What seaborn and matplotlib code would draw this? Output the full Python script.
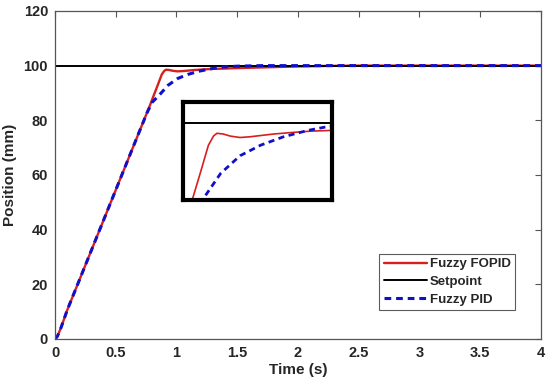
import numpy as np
import pandas as pd
import seaborn as sns
import matplotlib.pyplot as plt

# datos
t_fopid = [0, 0.02, 0.05, 0.1, 0.2, 0.3, 0.4, 0.5, 0.6, 0.7, 0.78, 0.81, 0.845, 0.879,
           0.9, 0.914, 0.94, 0.97, 1.01, 1.05, 1.1, 1.15, 1.22, 1.3, 1.38, 1.5, 1.75,
           2.0, 2.25, 2.5, 3.0, 3.5, 4.0]
v_fopid = [0, 1.0, 4.2, 10.5, 21.5, 32.5, 43.5, 54.5, 65.5, 76.5, 85.3, 88.8, 92.8, 96.8,
           98.1, 98.5, 98.4, 98.1, 97.9, 98.0, 98.2, 98.4, 98.6, 98.8, 98.9, 99.1, 99.4,
           99.7, 99.9, 100, 100, 100, 100]

t_pid = [0, 0.02, 0.05, 0.1, 0.2, 0.3, 0.4, 0.5, 0.6, 0.7, 0.76, 0.8, 0.86, 0.93,
         1.01, 1.095, 1.19, 1.29, 1.38, 1.5, 1.7, 2.0, 2.5, 3.0, 3.5, 4.0]
v_pid = [0, 1.0, 4.2, 10.5, 21.5, 32.5, 43.5, 54.5, 65.5, 76.5, 83.0, 86.6, 89.3, 92.8,
         95.3, 96.8, 98.0, 98.9, 99.5, 99.8, 100, 100, 100, 100, 100, 100]

t_set = [0, 4]
v_set = [100, 100]

sns.set_style("white")
plt.rcParams['font.family'] = ['Liberation Sans', 'DejaVu Sans']
plt.rcParams['font.weight'] = 'bold'

fig = plt.figure(figsize=(5.5, 3.91), dpi=100)
ax = fig.add_axes([0.1, 0.133, 0.8836, 0.839])

rojo = '#d81e1e'
azul = '#1010cc'

def dibujar(ax, lw_r, lw_k, lw_b, leyenda):
    sns.lineplot(x=t_fopid, y=v_fopid, ax=ax, color=rojo, lw=lw_r, estimator=None,
                 sort=False, label='Fuzzy FOPID' if leyenda else None)
    sns.lineplot(x=t_set, y=v_set, ax=ax, color='black', lw=lw_k, estimator=None,
                 sort=False, label='Setpoint' if leyenda else None)
    sns.lineplot(x=t_pid, y=v_pid, ax=ax, color=azul, lw=lw_b, estimator=None,
                 sort=False, ls=(0, (2.2, 1.6)), label='Fuzzy PID' if leyenda else None)

dibujar(ax, 1.7, 1.4, 2.2, True)

ax.set_xlim(0, 4)
ax.set_ylim(0, 120)
ax.set_xticks(np.arange(0, 4.01, 0.5))
ax.set_xticklabels(['0', '0.5', '1', '1.5', '2', '2.5', '3', '3.5', '4'])
ax.set_yticks(np.arange(0, 121, 20))
ax.set_xlabel('Time (s)', fontsize=11, fontweight='bold', labelpad=2)
ax.set_ylabel('Position (mm)', fontsize=11, fontweight='bold', labelpad=5)
ax.tick_params(direction='in', top=True, right=True, length=4, width=0.8,
               color='#555555', labelsize=10.5, pad=5)
for s in ax.spines.values():
    s.set_color('#555555')
    s.set_linewidth(0.9)

leg = ax.legend(loc='lower right', bbox_to_anchor=(0.947, 0.088), fontsize=9.5,
                frameon=True, fancybox=False, handlelength=3.3, handletextpad=0.2,
                borderpad=0.35, labelspacing=0.4, borderaxespad=0)
leg.get_frame().set_edgecolor('#333333')
leg.get_frame().set_linewidth(0.8)
for txt in leg.get_texts():
    txt.set_fontweight('bold')

# recuadro ampliado
axin = fig.add_axes([0.3333, 0.4885, 0.2698, 0.2514])
dibujar(axin, 1.2, 1.4, 2.0, False)
axin.set_xlim(0.775, 1.39)
axin.set_ylim(89, 103)
axin.set_xticks([])
axin.set_yticks([])
for s in axin.spines.values():
    s.set_color('black')
    s.set_linewidth(3)

plt.savefig('out.png', dpi=100)
